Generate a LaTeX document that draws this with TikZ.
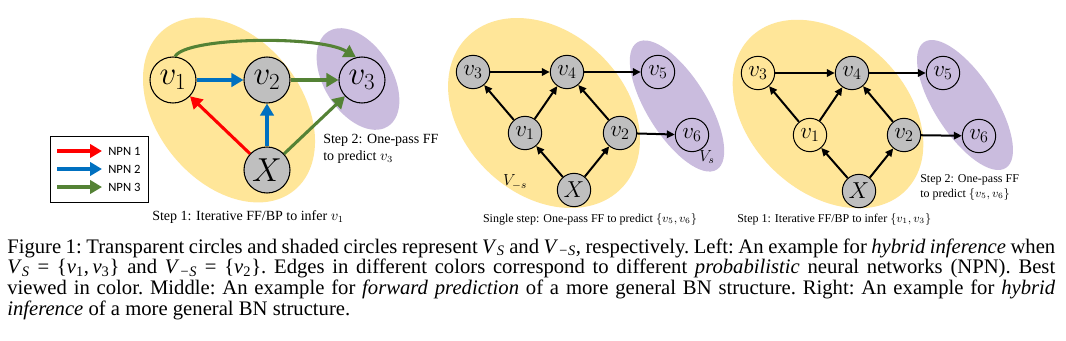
\documentclass[tikz,border=0pt]{standalone}
\usepackage{fontspec}
\setmainfont{Liberation Serif}
\newfontfamily\calib{Carlito}
\usetikzlibrary{arrows.meta}
\definecolor{ylw}{RGB}{255,230,153}
\definecolor{prp}{RGB}{202,188,222}
\definecolor{gry}{RGB}{191,191,191}
\definecolor{nred}{RGB}{255,0,0}
\definecolor{nblue}{RGB}{0,112,192}
\definecolor{ngreen}{RGB}{84,130,53}
\newcommand{\cV}[1]{\textit{V}\textsubscript{\textit{#1}}}
\newcommand{\cv}[1]{\textit{v}\textsubscript{#1}}
\tikzset{
  bignode/.style={circle, draw=black, line width=0.8pt, minimum size=34.5pt, inner sep=0pt, font=\fontsize{26}{26}\selectfont},
  smallnode/.style={circle, draw=black, line width=0.75pt, minimum size=25pt, inner sep=0pt, font=\fontsize{18.5}{18.5}\selectfont},
  shaded/.style={fill=gry},
  carrow/.style={line width=2.3pt, -{Triangle[length=9pt,width=10pt]}},
  barrow/.style={line width=1.5pt, -{Triangle[length=6pt,width=5.5pt]}},
  bigtxt/.style={font=\fontsize{10.5}{12}\selectfont, inner sep=0pt, anchor=base west},
  smltxt/.style={font=\fontsize{9}{11}\selectfont, inner sep=0pt, anchor=base west},
  legtxt/.style={font=\calib\fontsize{9.5}{11}\selectfont, inner sep=0pt, anchor=west},
}
\begin{document}
\begin{tikzpicture}[x=0.75pt,y=-0.75pt]
\useasboundingbox (0,0) rectangle (1066,340);
\fill[white] (0,0) rectangle (1066,340);

% ---------- ellipses ----------
\fill[ylw, rotate around={-51:(229,110)}] (229,110) ellipse [x radius=103.5, y radius=72.3];
\fill[prp, rotate around={-58:(358,79)}] (358,79) ellipse [x radius=56, y radius=34];
\fill[ylw, rotate around={-44:(544,113)}] (544,113) ellipse [x radius=108, y radius=81];
\fill[prp, rotate around={-58:(677,106)}] (677,106) ellipse [x radius=75, y radius=30];
\fill[ylw, rotate around={-44:(828,114)}] (828,114) ellipse [x radius=109, y radius=78];
\fill[prp, rotate around={-57:(965,105)}] (965,105) ellipse [x radius=75, y radius=30];

% ---------- left panel ----------
\node[bignode] (Lv1) at (173,80) {$v_1$};
\node[bignode, shaded] (Lv2) at (267,80) {$v_2$};
\node[bignode] (Lv3) at (362,80) {$v_3$};
\node[bignode, shaded] (LX) at (267,170) {$X$};
\draw[carrow, nblue] (Lv1) -- (Lv2);
\draw[carrow, nred] (LX) -- (Lv1);
\draw[carrow, nblue] (LX) -- (Lv2);
\draw[carrow, ngreen] (Lv2) -- (Lv3);
\draw[carrow, ngreen] (LX) -- (Lv3);
\draw[carrow, ngreen] (Lv1.85) .. controls (185,37) and (320,35) .. (Lv3.105);

\node[draw=black, line width=0.8pt, minimum width=73.5pt, minimum height=49.5pt, anchor=north west, inner sep=0pt] (leg) at (50,136) {};
\coordinate (l1a) at (57,151); \coordinate (l1b) at (102,151);
\coordinate (l2a) at (57,169); \coordinate (l2b) at (102,169);
\coordinate (l3a) at (57,187); \coordinate (l3b) at (102,187);
\draw[carrow, nred] (l1a) -- (l1b);
\draw[carrow, nblue] (l2a) -- (l2b);
\draw[carrow, ngreen] (l3a) -- (l3b);
\node[legtxt] (n1) at (108,151) {NPN 1};
\node[legtxt] (n2) at (108,169) {NPN 2};
\node[legtxt] (n3) at (108,187) {NPN 3};

\node[bigtxt] (Ls2a) at (323,143) {Step 2: One-pass FF};
\node[bigtxt] (Ls2b) at (323,160) {to predict $v_3$};
\node[bigtxt] (Ls1) at (152,220) {Step 1: Iterative FF/BP to infer $v_1$};

% ---------- middle panel ----------
\node[smallnode, shaded] (Mv3) at (473,72) {$v_3$};
\node[smallnode, shaded] (Mv4) at (567,72) {$v_4$};
\node[smallnode] (Mv5) at (658,72) {$v_5$};
\node[smallnode, shaded] (Mv1) at (525,133) {$v_1$};
\node[smallnode, shaded] (Mv2) at (620,133) {$v_2$};
\node[smallnode] (Mv6) at (692,135) {$v_6$};
\node[smallnode, shaded] (MX) at (574,190) {$X$};
\draw[barrow] (Mv3) -- (Mv4);
\draw[barrow] (Mv4) -- (Mv5);
\draw[barrow] (Mv1) -- (Mv3);
\draw[barrow] (Mv1) -- (Mv4);
\draw[barrow] (Mv2) -- (Mv4);
\draw[barrow] (Mv2) -- (Mv6);
\draw[barrow] (MX) -- (Mv1);
\draw[barrow] (MX) -- (Mv2);
\node[font=\fontsize{12}{12}\selectfont, inner sep=0pt] (Mvs) at (515,182) {$V_{-s}$};
\node[font=\fontsize{12}{12}\selectfont, inner sep=0pt] (Mvt) at (707,157) {$V_s$};
\node[smltxt, anchor=base] (Mcap) at (590,222) {Single step: One-pass FF to predict $\{v_5, v_6\}$};

% ---------- right panel ----------
\node[smallnode] (Rv3) at (758,73) {$v_3$};
\node[smallnode, shaded] (Rv4) at (852,73) {$v_4$};
\node[smallnode] (Rv5) at (943,73) {$v_5$};
\node[smallnode] (Rv1) at (810,135) {$v_1$};
\node[smallnode, shaded] (Rv2) at (904,135) {$v_2$};
\node[smallnode] (Rv6) at (979,136) {$v_6$};
\node[smallnode, shaded] (RX) at (859,191) {$X$};
\draw[barrow] (Rv3) -- (Rv4);
\draw[barrow] (Rv4) -- (Rv5);
\draw[barrow] (Rv1) -- (Rv3);
\draw[barrow] (Rv1) -- (Rv4);
\draw[barrow] (Rv2) -- (Rv4);
\draw[barrow] (Rv2) -- (Rv6);
\draw[barrow] (RX) -- (Rv1);
\draw[barrow] (RX) -- (Rv2);
\node[smltxt] (Rs2a) at (920,182) {Step 2: One-pass FF};
\node[smltxt] (Rs2b) at (920,197) {to predict $\{v_5, v_6\}$};
\node[smltxt] (Rs1) at (737,222) {Step 1: Iterative FF/BP to infer $\{v_1, v_3\}$};

% ---------- caption ----------
\node[anchor=base west, inner sep=0pt, font=\fontsize{15.5}{15.5}\selectfont] (cap) at (7,253) {\parbox[t]{786pt}{\frenchspacing\hyphenpenalty=10000\exhyphenpenalty=10000\emergencystretch=20pt
Figure 1: Transparent circles and shaded circles represent \cV{S} and \cV{−S}, respectively. Left: An example for \textit{hybrid inference} when\linebreak
\cV{S}~=~\{\cv{1},\,\cv{3}\} and \cV{−S}~=~\{\cv{2}\}. Edges in different colors correspond to different \textit{probabilistic} neural networks (NPN). Best\linebreak
viewed in color. Middle: An example for \textit{forward prediction} of a more general BN structure. Right: An example for \textit{hybrid}\linebreak
\textit{inference} of a more general BN structure.}};
\end{tikzpicture}
\end{document}
